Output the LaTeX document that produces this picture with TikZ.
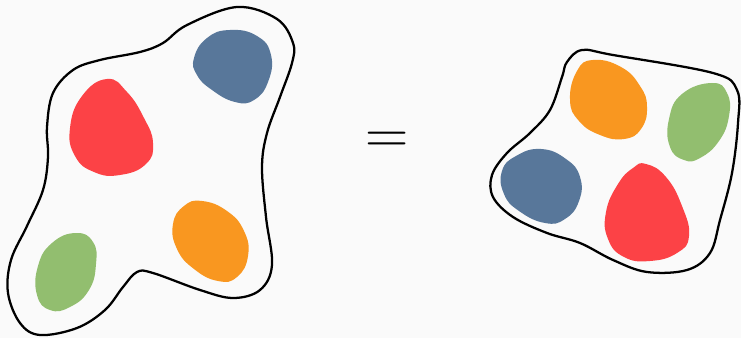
\documentclass[tikz,border=0pt]{standalone}
\usetikzlibrary{calc}
\definecolor{bg}{HTML}{FAFAFA}
\definecolor{cblue}{HTML}{58779A}
\definecolor{cred}{HTML}{FC4246}
\definecolor{corange}{HTML}{F99720}
\definecolor{cgreen}{HTML}{92BE6F}
\tikzset{
  outline/.style={draw=black, line width=1.7pt, fill=bg},
  blob/.style={draw=none},
}
\begin{document}
\begin{tikzpicture}[x=0.75pt, y=-0.75pt]
\fill[bg] (0,0) rectangle (741,338);
\useasboundingbox (0,0) rectangle (741,338);
% left set
\draw[outline] plot[smooth cycle, tension=0.6] coordinates {
 (163,43) (187,25) (237,7) (277,19) (293,43) (292,63) (280,97) (267,133)
 (262,167) (266,217) (272,265) (260,290) (233,298) (200,290) (153,273)
 (137,272) (123,287) (105,310) (77,328) (40,335) (20,323) (8,293) (11,260)
 (27,226) (43,190) (48,157) (47,127) (53,93) (73,70) (100,60) (140,52)};
\fill[cblue] plot[smooth cycle, tension=0.8] coordinates {
 (194,58) (207,38) (230,30) (257,36) (271,55) (268,82) (254,100) (235,102) (212,90) (197,75)};
\fill[cred] plot[smooth cycle, tension=0.8] coordinates {
 (107,79) (127,92) (144,118) (153,143) (146,164) (120,175) (94,172) (75,156) (70,128) (82,96)};
\fill[cgreen] plot[smooth cycle, tension=0.8] coordinates {
 (76,233) (93,242) (96,264) (89,290) (70,307) (50,310) (37,295) (38,266) (52,243)};
\fill[corange] plot[smooth cycle, tension=0.8] coordinates {
 (202,201) (227,211) (244,231) (248,256) (237,277) (218,281) (194,269) (177,249) (173,224) (184,206)};
% equals
\node[inner sep=0pt] (eq) at (387,143) {\fontsize{45}{50}\selectfont =};
% right set
\draw[outline] plot[smooth cycle, tension=0.6] coordinates {
 (582,50) (613,55) (713,73) (737,90) (738,123) (732,173) (720,220) (710,253)
 (687,270) (647,272) (613,260) (580,243) (547,233) (513,217) (493,197)
 (492,175) (507,153) (530,133) (550,110) (562,77) (567,62)};
\fill[corange] plot[smooth cycle, tension=0.8] coordinates {
 (593,60) (621,67) (640,86) (647,107) (641,129) (624,139) (600,135) (579,121) (570,100) (577,71)};
\fill[cgreen] plot[smooth cycle, tension=0.8] coordinates {
 (712,83) (727,93) (729,116) (719,141) (700,158) (684,160) (670,147) (669,119) (682,94)};
\fill[cblue] plot[smooth cycle, tension=0.8] coordinates {
 (541,149) (566,159) (580,177) (579,201) (565,219) (545,223) (519,211) (504,194) (502,171) (516,156)};
\fill[cred] plot[smooth cycle, tension=0.8] coordinates {
 (646,164) (666,177) (682,206) (689,236) (677,253) (650,261) (624,257) (608,239) (606,212) (618,184) (633,168)};
\end{tikzpicture}
\end{document}
